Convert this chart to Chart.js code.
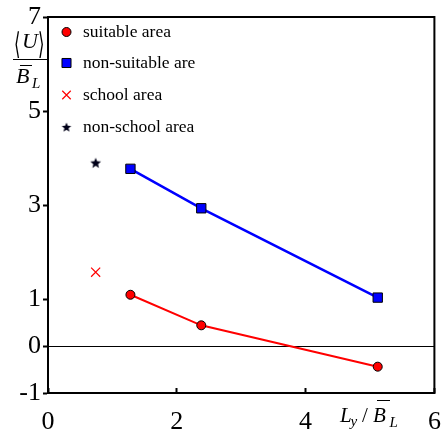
<!DOCTYPE html>
<html><head><meta charset="utf-8">
<script src="https://cdn.jsdelivr.net/npm/chart.js@4/dist/chart.umd.min.js"></script>
<style>html,body{margin:0;padding:0;background:#fff}canvas{display:block}</style>
</head><body>
<canvas id="c" width="442" height="439" style="width:442px;height:439px"></canvas>
<script>
// ---- data ----
const suitableX = [1.28, 2.38, 5.12];
const suitableY = [1.09, 0.44, -0.44];
const nonSuitableX = [1.28, 2.38, 5.12];
const nonSuitableY = [3.77, 2.93, 1.03];
const schoolX = [0.74];
const schoolY = [1.57];
const nonSchoolX = [0.74];
const nonSchoolY = [3.9];
const seriesLabels = ['suitable area', 'non-suitable are', 'school area', 'non-school area'];
const yTickValues = [-1, 0, 1, 3, 5, 7];
const xTickValues = [0, 2, 4, 6];

const pts = (xs, ys) => xs.map((x, i) => ({x, y: ys[i]}));

function starCanvas(r) {
  const c = document.createElement('canvas');
  const s = Math.ceil(r * 2 + 2);
  c.width = s; c.height = s;
  const g = c.getContext('2d');
  g.fillStyle = '#000018';
  g.beginPath();
  for (let i = 0; i < 10; i++) {
    const rr = i % 2 === 0 ? r : r * 0.45;
    const a = -Math.PI / 2 + i * Math.PI / 5;
    const px = s / 2 + rr * Math.cos(a), py = s / 2 + rr * Math.sin(a) + 0.6;
    i === 0 ? g.moveTo(px, py) : g.lineTo(px, py);
  }
  g.closePath(); g.fill();
  return c;
}
const star = starCanvas(5.6);
const starSmall = starCanvas(5);

const SERIF = '"Liberation Serif", "Times New Roman", serif';

const frame = {
  id: 'frame',
  beforeDatasetsDraw(chart) {
    const {ctx, chartArea: a} = chart;
    ctx.save();
    ctx.strokeStyle = '#000';
    ctx.lineWidth = 2;
    ctx.beginPath();
    ctx.moveTo(a.left, a.top); ctx.lineTo(a.right, a.top); ctx.lineTo(a.right, a.bottom);
    ctx.stroke();
    ctx.restore();
  },
  afterDraw(chart) {
    const {ctx, chartArea: a} = chart;
    ctx.save();
    // legend
    const ys = [32, 63, 95, 127];
    chart.data.datasets.forEach((ds, i) => {
      const y = ys[i];
      ctx.fillStyle = ds.backgroundColor;
      ctx.strokeStyle = ds.pointBorderColor;
      ctx.lineWidth = ds.pointBorderWidth;
      Chart.helpers.drawPoint(ctx, {pointStyle: ds.legendStyle || ds.pointStyle, radius: ds.legendRadius, rotation: 0, borderWidth: ds.pointBorderWidth}, 66.5, y);
      ctx.fillStyle = '#000';
      ctx.font = '17.5px ' + SERIF;
      ctx.textBaseline = 'middle';
      ctx.textAlign = 'left';
      ctx.fillText(ds.label, 83, y);
    });
    // y-axis title: <U> / B_L
    ctx.fillStyle = '#000';
    ctx.strokeStyle = '#000';
    ctx.textBaseline = 'alphabetic';
    ctx.font = '300 30px "DejaVu Sans", sans-serif';
    ctx.textAlign = 'center';
    ctx.save();
    ctx.scale(0.55, 1);
    ctx.fillText('\u27E8', 17 / 0.55, 54);
    ctx.fillText('\u27E9', 41 / 0.55, 54);
    ctx.restore();
    ctx.font = 'italic 22px ' + SERIF;
    ctx.fillText('U', 30, 48);
    ctx.lineWidth = 1;
    ctx.beginPath(); ctx.moveTo(13, 59.5); ctx.lineTo(a.left, 59.5); ctx.stroke();
    ctx.textAlign = 'left';
    ctx.fillText('B', 16, 83);
    ctx.beginPath(); ctx.moveTo(20, 65.5); ctx.lineTo(32, 65.5); ctx.stroke();
    ctx.font = 'italic 15px ' + SERIF;
    ctx.fillText('L', 32, 88);
    // x-axis title: L_y / B_L
    ctx.font = 'italic 21px ' + SERIF;
    ctx.fillText('L', 340, 422);
    ctx.font = 'italic 15px ' + SERIF;
    ctx.fillText('y', 350.5, 426);
    ctx.font = '21px ' + SERIF;
    ctx.fillText('/', 362, 422);
    ctx.font = 'italic 21px ' + SERIF;
    ctx.fillText('B', 373, 422);
    ctx.beginPath(); ctx.moveTo(377, 400.5); ctx.lineTo(390, 400.5); ctx.stroke();
    ctx.font = 'italic 15px ' + SERIF;
    ctx.fillText('L', 389.5, 427);
    ctx.restore();
  }
};

new Chart(document.getElementById('c'), {
  type: 'scatter',
  data: {
    datasets: [
      {label: seriesLabels[0], data: pts(suitableX, suitableY), showLine: true,
       borderColor: '#ff0000', backgroundColor: '#ff0000', borderWidth: 2,
       pointStyle: 'circle', pointRadius: 4.5, pointBorderColor: '#000', pointBorderWidth: 1, legendRadius: 4.5},
      {label: seriesLabels[1], data: pts(nonSuitableX, nonSuitableY), showLine: true,
       borderColor: '#0000ff', backgroundColor: '#0000ff', borderWidth: 2.5,
       pointStyle: 'rect', pointRadius: 6.6, pointBorderColor: '#000', pointBorderWidth: 1, legendRadius: 6.4},
      {label: seriesLabels[2], data: pts(schoolX, schoolY),
       borderColor: '#ff0000', backgroundColor: '#ff0000',
       pointStyle: 'crossRot', pointRadius: 6.4, pointBorderColor: '#ff0000', pointBorderWidth: 1.2, legendRadius: 6},
      {label: seriesLabels[3], data: pts(nonSchoolX, nonSchoolY),
       borderColor: '#000', backgroundColor: '#000',
       pointStyle: star, legendStyle: starSmall, pointRadius: 6, pointBorderColor: '#000', pointBorderWidth: 0, legendRadius: 5}
    ]
  },
  options: {
    responsive: false,
    animation: false,
    devicePixelRatio: 1,
    layout: {padding: {top: 17, right: 5, left: 0, bottom: 0}},
    plugins: {legend: {display: false}, tooltip: {enabled: false}},
    scales: {
      x: {
        type: 'linear', min: 0, max: 6,
        afterBuildTicks: s => { s.ticks = xTickValues.map(v => ({value: v})); },
        afterFit: s => { s.height = 46; s.paddingLeft = 0; s.paddingRight = 0; },
        ticks: {color: '#000', font: {family: SERIF, size: 26}, padding: 19, maxRotation: 0},
        grid: {drawOnChartArea: false, drawTicks: true, tickLength: -5, tickColor: '#000', tickWidth: 2},
        border: {display: true, color: '#000', width: 2}
      },
      y: {
        type: 'linear', min: -1, max: 7,
        afterBuildTicks: s => { s.ticks = yTickValues.map(v => ({value: v})); },
        afterFit: s => { s.width = 48; s.paddingTop = 0; s.paddingBottom = 0; },
        ticks: {color: '#000', font: {family: SERIF, size: 26}, padding: 2},
        grid: {
          drawOnChartArea: true, drawTicks: true, tickLength: 5, tickColor: '#000', tickWidth: 2,
          color: c => (c.tick && c.tick.value === 0) ? '#000' : 'rgba(0,0,0,0)',
          lineWidth: 1
        },
        border: {display: true, color: '#000', width: 2}
      }
    }
  },
  plugins: [frame]
});
</script>
</body></html>
